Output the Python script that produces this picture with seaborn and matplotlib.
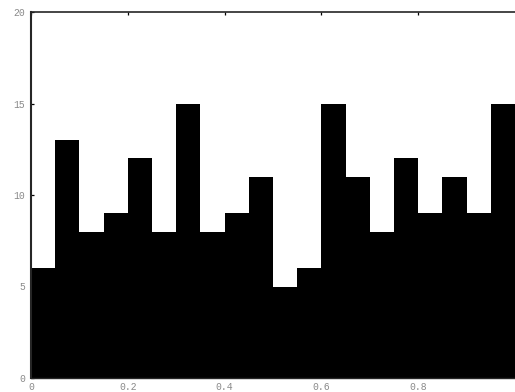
import numpy as np
import pandas as pd
import seaborn as sns
import matplotlib.pyplot as plt

counts = [6, 13, 8, 9, 12, 8, 15, 8, 9, 11, 5, 6, 15, 11, 8, 12, 9, 11, 9, 15]
edges = np.linspace(0, 1, len(counts) + 1)
centers = (edges[:-1] + edges[1:]) / 2
xticks = [0, 0.2, 0.4, 0.6, 0.8]
xticklabels = ["0", "0.2", "0.4", "0.6", "0.8"]
yticks = [0, 5, 10, 15, 20]

sns.set_style("ticks")
plt.rcParams['font.family'] = ['Liberation Mono', 'DejaVu Sans Mono']

df = pd.DataFrame({"x": centers, "n": counts})

fig = plt.figure(figsize=(5.15, 3.92), dpi=100)
ax = fig.add_axes([31 / 515, 14 / 392, 484 / 515, 366 / 392])
sns.histplot(data=df, x="x", weights="n", bins=len(counts), binrange=(0, 1),
             color="black", alpha=1, edgecolor="none", linewidth=0, ax=ax)

ax.set_xlim(0, 1)
ax.set_ylim(0, 20)
ax.set_xticks(xticks)
ax.set_xticklabels(xticklabels)
ax.set_yticks(yticks)
ax.set_xlabel("")
ax.set_ylabel("")
ax.tick_params(direction="in", length=2.5, width=0.9, colors="black",
               labelcolor="#8a8a8a", labelsize=7, top=True, right=False)
ax.tick_params(axis="x", pad=3)
ax.tick_params(axis="y", pad=4)
ax.spines["left"].set_linewidth(1.5)
ax.spines["top"].set_linewidth(1.2)
ax.spines["bottom"].set_linewidth(1.0)
ax.spines["right"].set_visible(False)

plt.savefig("out.png", dpi=100)
